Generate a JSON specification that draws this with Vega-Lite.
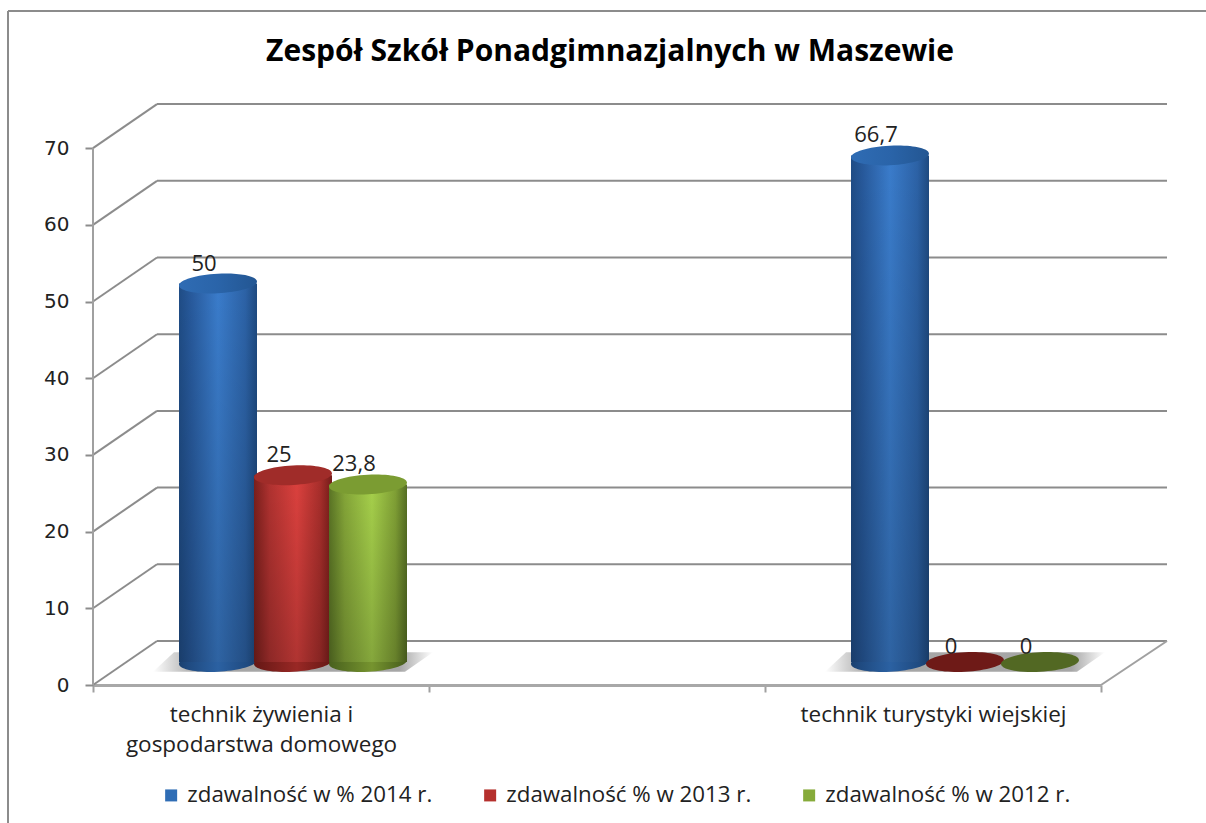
{
"$schema":"https://vega.github.io/schema/vega-lite/v6.json",
"autosize":"none","width":1074,"height":581,
"padding":{"left":93,"top":104,"right":39,"bottom":138},
"background":"white",
"config":{"view":{"stroke":null},"font":"Open Sans","locale":{"number":{"decimal":",","thousands":" ","grouping":[3],"currency":["","zł"]}}},
"title":{"text":"Zespół Szkół Ponadgimnazjalnych w Maszewie","font":"Open Sans","fontSize":30,"fontWeight":"bold","color":"#000000","anchor":"middle","frame":"group","dx":-20,"offset":-57},
"datasets":{
"scores":[
{"zawod":"technik żywienia i gospodarstwa domowego","seria":"zdawalność w % 2014 r.","wartosc":50},
{"zawod":"technik żywienia i gospodarstwa domowego","seria":"zdawalność % w 2013 r.","wartosc":25},
{"zawod":"technik żywienia i gospodarstwa domowego","seria":"zdawalność % w 2012 r.","wartosc":23.8},
{"zawod":"technik turystyki wiejskiej","seria":"zdawalność w % 2014 r.","wartosc":66.7},
{"zawod":"technik turystyki wiejskiej","seria":"zdawalność % w 2013 r.","wartosc":0},
{"zawod":"technik turystyki wiejskiej","seria":"zdawalność % w 2012 r.","wartosc":0}
],
"ticks":[{"t":0},{"t":10},{"t":20},{"t":30},{"t":40},{"t":50},{"t":60},{"t":70}]
},
"encoding":{
"x":{"field":"zawod","type":"nominal","sort":null,"title":null,
 "scale":{"domain":["technik żywienia i gospodarstwa domowego"," ","technik turystyki wiejskiej"],"range":[0,1008],"paddingInner":0,"paddingOuter":0},
 "axis":{"domainColor":"#a8a8a8","domainWidth":3,"tickColor":"#a0a0a0","tickWidth":2,"tickSize":7,"tickBand":"extent","labelAngle":0,"labelFontSize":22.5,"labelColor":"#222222","labelPadding":11,"labelLimit":400,"labelLineHeight":30,"labelExpr":"datum.value=='technik żywienia i gospodarstwa domowego'?['technik żywienia i','gospodarstwa domowego']:datum.label"}},
 "y":{"field":"wartosc","type":"quantitative","title":null,"scale":{"domain":[0,75.75],"range":[581,0],"nice":false,"zero":false},
 "axis":{"domain":false,"grid":false,"values":[0,10,20,30,40,50,60,70],"tickColor":"#8c8c8c","tickWidth":2,"tickSize":8,"labelFontSize":20,"labelColor":"#222222","labelPadding":16,"labelFont":"DejaVu Sans"}}
},
"layer":[
{"data":{"name":"ticks"},"mark":{"type":"rule","stroke":"#8c8c8c","strokeWidth":2,"xOffset":0},
 "encoding":{"x":{"value":64},"x2":{"value":1074},"y":{"field":"t","type":"quantitative","title":null},"yOffset":{"value":-44}}},
{"data":{"name":"ticks"},"mark":{"type":"rule","stroke":"#8c8c8c","strokeWidth":2,"y2Offset":-44},
 "encoding":{"x":{"value":0},"x2":{"value":64},"y":{"field":"t","type":"quantitative","title":null},"y2":{"field":"t"}}},
{"data":{"values":[{"a":0,"b":70}]},"mark":{"type":"rule","stroke":"#a0a0a0","strokeWidth":2},
 "encoding":{"x":{"value":0},"y":{"field":"a","type":"quantitative","title":null},"y2":{"field":"b"}}},
{"data":{"values":[{"a":0}]},"mark":{"type":"rule","stroke":"#a0a0a0","strokeWidth":2,"y2Offset":-44},
 "encoding":{"x":{"value":1008},"x2":{"value":1074},"y":{"field":"a","type":"quantitative","title":null},"y2":{"field":"a"}}},

{"data":{"name":"scores"},"transform":[{"filter":"datum.seria=='zdawalność w % 2014 r.'"}],
 "mark":{"type":"point","filled":true,"opacity":1,"xOffset":32,"yOffset":-23,"size":78400,"shape":"M-1,0.07 L-0.85,-0.07 L1,-0.07 L0.8,0.07 Z","fill":{"gradient":"linear","x1":0,"x2":1,"y1":0,"y2":0,"stops":[{"offset":0,"color":"#ffffff"},{"offset":0.08,"color":"#d0d0d0"},{"offset":0.16,"color":"#a6a6a6"},{"offset":0.88,"color":"#a6a6a6"},{"offset":1,"color":"#ffffff"}]}},
 "encoding":{"y":{"datum":0}}},

{"data":{"name":"scores"},
 "mark":{"type":"point","filled":true,"size":0},
 "encoding":{"y":{"datum":0},"color":{"field":"seria","type":"nominal","sort":null,"scale":{"domain":["zdawalność w % 2014 r.","zdawalność % w 2013 r.","zdawalność % w 2012 r."],"range":["#2f6db5","#b5302d","#86ab3a"]},
 "legend":{"title":null,"orient":"none","legendX":67,"legendY":680,"direction":"horizontal","columns":3,"gridAlign":"all","columnPadding":46,"symbolType":"square","symbolSize":144,"symbolOpacity":1,"labelFontSize":22.3,"labelColor":"#222222","labelOffset":5,"labelLimit":400}}}},

{"data":{"name":"scores"},"transform":[{"filter":"datum.seria=='zdawalność w % 2014 r.'"}],
 "mark":{"type":"text","fontSize":22,"color":"#222222","dx":-57,"dy":-26,"align":"center","baseline":"bottom"},
 "encoding":{"text":{"field":"wartosc","type":"quantitative","format":".1~f"}}},
{"data":{"name":"scores"},"transform":[{"filter":"datum.seria=='zdawalność w % 2014 r.' && datum.wartosc>0"}],
 "mark":{"type":"point","filled":true,"opacity":1,"xOffset":-43,"size":6084,"shape":"M-1,0.05 A1,0.25,-3,1,0,1,-0.05 A1,0.25,-3,1,0,-1,0.05 Z","fill":{"gradient":"linear","x1":0,"x2":1,"y1":0,"y2":0,"stops":[{"offset":0,"color":"#1a406f"},{"offset":0.12,"color":"#1f4a80"},{"offset":0.5,"color":"#2b61a2"},{"offset":0.88,"color":"#1f4a80"},{"offset":1,"color":"#193d6a"}]}},
 "encoding":{"y":{"datum":0},"yOffset":{"value":-23}}},
{"data":{"name":"scores"},"transform":[{"filter":"datum.seria=='zdawalność w % 2014 r.' && datum.wartosc>0"}],
 "mark":{"type":"bar","width":78,"xOffset":-43,"yOffset":-18,"y2Offset":-23,"fill":{"gradient":"linear","x1":0,"x2":1,"y1":0,"y2":0,"stops":[{"offset":0,"color":"#1f4c85"},{"offset":0.15,"color":"#27599b"},{"offset":0.5,"color":"#3a7ccb"},{"offset":0.85,"color":"#2c62a6"},{"offset":1,"color":"#1e4a80"}]}},
 "encoding":{"y2":{"datum":0}}},
{"data":{"name":"scores"},"transform":[{"filter":"datum.seria=='zdawalność w % 2014 r.' && datum.wartosc>0"}],
 "mark":{"type":"bar","width":78,"xOffset":-43,"yOffset":-18,"y2Offset":-23,"fill":{"gradient":"linear","x1":0,"x2":0,"y1":0,"y2":1,"stops":[{"offset":0,"color":"rgba(0,0,0,0)"},{"offset":1,"color":"rgba(0,0,0,0.2)"}]}},
 "encoding":{"y2":{"datum":0}}},
{"data":{"name":"scores"},"transform":[{"filter":"datum.seria=='zdawalność w % 2014 r.' && datum.wartosc>0"}],
 "mark":{"type":"point","filled":true,"opacity":1,"xOffset":-43,"yOffset":-18,"size":6084,"shape":"M-1,0.05 A1,0.25,-3,1,1,1,-0.05 A1,0.25,-3,1,1,-1,0.05 Z","fill":{"gradient":"linear","x1":0,"x2":1,"y1":0,"y2":0,"stops":[{"offset":0,"color":"#2f6cb4"},{"offset":0.5,"color":"#2a64a9"},{"offset":1,"color":"#235692"}]}}},

{"data":{"name":"scores"},"transform":[{"filter":"datum.seria=='zdawalność % w 2013 r.'"}],
 "mark":{"type":"text","fontSize":22,"color":"#222222","dx":18,"dy":-26,"align":"center","baseline":"bottom"},
 "encoding":{"text":{"field":"wartosc","type":"quantitative","format":".1~f"}}},
{"data":{"name":"scores"},"transform":[{"filter":"datum.seria=='zdawalność % w 2013 r.' && datum.wartosc>0"}],
 "mark":{"type":"point","filled":true,"opacity":1,"xOffset":32,"size":6084,"shape":"M-1,0.05 A1,0.25,-3,1,0,1,-0.05 A1,0.25,-3,1,0,-1,0.05 Z","fill":{"gradient":"linear","x1":0,"x2":1,"y1":0,"y2":0,"stops":[{"offset":0,"color":"#651815"},{"offset":0.55,"color":"#992825"},{"offset":1,"color":"#651815"}]}},
 "encoding":{"y":{"datum":0},"yOffset":{"value":-23}}},
{"data":{"name":"scores"},"transform":[{"filter":"datum.seria=='zdawalność % w 2013 r.' && datum.wartosc==0"}],
 "mark":{"type":"point","filled":true,"opacity":1,"xOffset":32,"fill":"#6e1a17","size":6084,"shape":"M-1,0.05 A1,0.25,-3,1,0,1,-0.05 A1,0.25,-3,1,0,-1,0.05 Z"},
 "encoding":{"y":{"datum":0},"yOffset":{"value":-23}}},
{"data":{"name":"scores"},"transform":[{"filter":"datum.seria=='zdawalność % w 2013 r.' && datum.wartosc>0"}],
 "mark":{"type":"bar","width":78,"xOffset":32,"yOffset":-18,"y2Offset":-23,"fill":{"gradient":"linear","x1":0,"x2":1,"y1":0,"y2":0,"stops":[{"offset":0,"color":"#7a1f1c"},{"offset":0.2,"color":"#b03230"},{"offset":0.55,"color":"#dc413e"},{"offset":0.85,"color":"#a82e2b"},{"offset":1,"color":"#741c19"}]}},
 "encoding":{"y2":{"datum":0}}},
{"data":{"name":"scores"},"transform":[{"filter":"datum.seria=='zdawalność % w 2013 r.' && datum.wartosc>0"}],
 "mark":{"type":"bar","width":78,"xOffset":32,"yOffset":-18,"y2Offset":-23,"fill":{"gradient":"linear","x1":0,"x2":0,"y1":0,"y2":1,"stops":[{"offset":0,"color":"rgba(0,0,0,0)"},{"offset":1,"color":"rgba(0,0,0,0.2)"}]}},
 "encoding":{"y2":{"datum":0}}},
{"data":{"name":"scores"},"transform":[{"filter":"datum.seria=='zdawalność % w 2013 r.' && datum.wartosc>0"}],
 "mark":{"type":"point","filled":true,"opacity":1,"xOffset":32,"yOffset":-18,"size":6084,"fill":"#a02c29","shape":"M-1,0.05 A1,0.25,-3,1,1,1,-0.05 A1,0.25,-3,1,1,-1,0.05 Z"}},

{"data":{"name":"scores"},"transform":[{"filter":"datum.seria=='zdawalność % w 2012 r.'"}],
 "mark":{"type":"text","fontSize":22,"color":"#222222","dx":93,"dy":-26,"align":"center","baseline":"bottom"},
 "encoding":{"text":{"field":"wartosc","type":"quantitative","format":".1~f"}}},
{"data":{"name":"scores"},"transform":[{"filter":"datum.seria=='zdawalność % w 2012 r.' && datum.wartosc>0"}],
 "mark":{"type":"point","filled":true,"opacity":1,"xOffset":107,"size":6084,"shape":"M-1,0.05 A1,0.25,-3,1,0,1,-0.05 A1,0.25,-3,1,0,-1,0.05 Z","fill":{"gradient":"linear","x1":0,"x2":1,"y1":0,"y2":0,"stops":[{"offset":0,"color":"#48601d"},{"offset":0.55,"color":"#76942f"},{"offset":1,"color":"#465c1c"}]}},
 "encoding":{"y":{"datum":0},"yOffset":{"value":-23}}},
{"data":{"name":"scores"},"transform":[{"filter":"datum.seria=='zdawalność % w 2012 r.' && datum.wartosc==0"}],
 "mark":{"type":"point","filled":true,"opacity":1,"xOffset":107,"fill":"#526823","size":6084,"shape":"M-1,0.05 A1,0.25,-3,1,0,1,-0.05 A1,0.25,-3,1,0,-1,0.05 Z"},
 "encoding":{"y":{"datum":0},"yOffset":{"value":-23}}},
{"data":{"name":"scores"},"transform":[{"filter":"datum.seria=='zdawalność % w 2012 r.' && datum.wartosc>0"}],
 "mark":{"type":"bar","width":78,"xOffset":107,"yOffset":-18,"y2Offset":-23,"fill":{"gradient":"linear","x1":0,"x2":1,"y1":0,"y2":0,"stops":[{"offset":0,"color":"#5a7425"},{"offset":0.2,"color":"#84a538"},{"offset":0.55,"color":"#a6d04b"},{"offset":0.85,"color":"#80a035"},{"offset":1,"color":"#556e23"}]}},
 "encoding":{"y2":{"datum":0}}},
{"data":{"name":"scores"},"transform":[{"filter":"datum.seria=='zdawalność % w 2012 r.' && datum.wartosc>0"}],
 "mark":{"type":"bar","width":78,"xOffset":107,"yOffset":-18,"y2Offset":-23,"fill":{"gradient":"linear","x1":0,"x2":0,"y1":0,"y2":1,"stops":[{"offset":0,"color":"rgba(0,0,0,0)"},{"offset":1,"color":"rgba(0,0,0,0.2)"}]}},
 "encoding":{"y2":{"datum":0}}},
{"data":{"name":"scores"},"transform":[{"filter":"datum.seria=='zdawalność % w 2012 r.' && datum.wartosc>0"}],
 "mark":{"type":"point","filled":true,"opacity":1,"xOffset":107,"yOffset":-18,"size":6084,"fill":"#7b9c32","shape":"M-1,0.05 A1,0.25,-3,1,1,1,-0.05 A1,0.25,-3,1,1,-1,0.05 Z"}},

{"mark":{"type":"rule","stroke":"#8c8c8c","strokeWidth":2,"clip":false},"data":{"values":[{}]},
 "encoding":{"x":{"value":-85},"x2":{"value":-85},"y":{"value":-93},"y2":{"value":719}}},
{"mark":{"type":"rule","stroke":"#8c8c8c","strokeWidth":2,"clip":false},"data":{"values":[{}]},
 "encoding":{"x":{"value":-85},"x2":{"value":1113},"y":{"value":-93},"y2":{"value":-93}}}
]
}
